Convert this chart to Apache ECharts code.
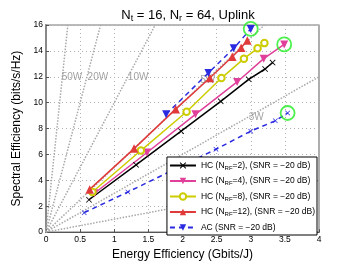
<!DOCTYPE html>
<html><head><meta charset="utf-8">
<script src="https://cdn.jsdelivr.net/npm/echarts@6/dist/echarts.min.js"></script>
<style>html,body{margin:0;padding:0;background:#fff}#c{width:353px;height:266px}</style>
</head><body><div id="c"></div>
<script>
// ---- data ----
var hc2X = [0.63, 1.32, 1.98, 2.56, 2.97, 3.21, 3.32];
var hc2Y = [2.5, 5.2, 7.8, 10.1, 11.8, 12.6, 13.1];
var hc4X = [0.71, 1.48, 2.19, 2.80, 3.19, 3.49];
var hc4Y = [3.0, 6.15, 9.1, 11.6, 13.4, 14.5];
var hc8X = [0.68, 1.39, 2.06, 2.57, 2.90, 3.10, 3.20];
var hc8Y = [3.1, 6.3, 9.3, 11.9, 13.4, 14.2, 14.6];
var hc12X = [0.64, 1.29, 1.90, 2.40, 2.73, 2.86, 2.95];
var hc12Y = [3.3, 6.45, 9.5, 11.9, 13.55, 14.25, 14.8];
var acX = [1.76, 2.38, 2.75, 3.00];
var acY = [9.1, 12.3, 14.2, 15.7];
var acLowX = [0.56, 1.20, 2.49, 3.00, 3.36, 3.54];
var acLowY = [1.5, 3.1, 6.4, 7.8, 8.6, 9.2];
var circleX = [3.00, 3.49, 3.54];
var circleY = [15.7, 14.5, 9.2];
// iso-power dotted lines: end points (start at origin)
var powerEndX = [0.32, 0.80, 1.60, 3.20, 4.0, 4.0];
var powerEndY = [16, 16, 16, 16, 12.0, 4.0];
var powerLabels = ['50W', '20W', '10W', '5W', '3W'];
var powerLabelX = [0.38, 0.76, 1.35, 2.37, 3.08];
var powerLabelY = [12.0, 12.0, 12.0, 11.7, 8.9];
var xTicks = [0, 0.5, 1, 1.5, 2, 2.5, 3, 3.5, 4];
var yTicks = [0, 2, 4, 6, 8, 10, 12, 14, 16];
var legendNames = {
  hc2: 'HC (N{s|RF}=2), (SNR = \u221220 dB)',
  hc4: 'HC (N{s|RF}=4), (SNR = \u221220 dB)',
  hc8: 'HC (N{s|RF}=8), (SNR = \u221220 dB)',
  hc12: 'HC (N{s|RF}=12), (SNR = \u221220 dB)',
  ac: 'AC (SNR = \u221220 dB)'
};

function zip(a, b) { return a.map(function (v, i) { return [v, b[i]]; }); }
var FONT = 'Liberation Sans, Arial, sans-serif';
var xMark = 'path://M1,0 L5,4 L9,0 L10,1 L6,5 L10,9 L9,10 L5,6 L1,10 L0,9 L4,5 L0,1 Z';

var series = [];
for (var i = 0; i < powerEndX.length; i++) {
  series.push({
    type: 'line', silent: true, symbol: 'none', z: 1,
    data: [[0, 0], [powerEndX[i], powerEndY[i]]],
    lineStyle: { type: [1.5, 1.5], color: '#a8a8a8', width: 1.5 }
  });
}
series.push({
  type: 'scatter', silent: true, symbolSize: 0, z: 1,
  data: powerLabels.map(function (t, i) { return { value: [powerLabelX[i], powerLabelY[i]], name: t }; }),
  label: { show: true, position: 'inside', formatter: function (p) { return p.name; },
           color: '#8c8c8c', fontSize: 10, fontFamily: FONT }
});
function mk(name, xs, ys, color, symbol, size, extra) {
  var s = {
    name: name, type: 'line', data: zip(xs, ys), z: 3,
    symbol: symbol, symbolSize: size,
    lineStyle: { color: color, width: 1.5 },
    itemStyle: { color: color }
  };
  for (var k in extra) s[k] = extra[k];
  return s;
}
series.push(mk('hc2', hc2X, hc2Y, '#000000', xMark, 6, {}));
series.push(mk('hc4', hc4X, hc4Y, '#e0409a', 'triangle', 8, { symbolRotate: 180 }));
series.push(mk('hc8', hc8X, hc8Y, '#cccc00', 'emptyCircle', 6.5, { itemStyle: { color: '#cccc00', borderWidth: 1.5 } }));
series.push(mk('hc12', hc12X, hc12Y, '#e03a3a', 'triangle', 8.5, {}));
series.push(mk('ac', acX, acY, '#2a2ae0', 'triangle', 8, { symbolRotate: 180, lineStyle: { color: '#2a2ae0', width: 1.5, type: [5, 4] } }));
series.push(mk('acLow', acLowX, acLowY, '#2a2ae0', xMark, 5, { lineStyle: { color: '#2a2ae0', width: 1.5, type: [5, 4] } }));
series.push({
  type: 'scatter', silent: true, z: 4, symbol: 'circle', symbolSize: 14,
  data: zip(circleX, circleY),
  itemStyle: { color: 'rgba(0,0,0,0)', borderColor: '#22ee22', borderWidth: 1.8 }
});

var chart = echarts.init(document.getElementById('c'), null, { renderer: 'canvas' });
chart.setOption({
  animation: false,
  backgroundColor: '#fff',
  title: {
    text: 'N{s|t} = 16, N{s|r} = 64, Uplink', left: 183, top: 2, textAlign: 'center',
    textStyle: { fontSize: 13, fontWeight: 'normal', fontFamily: FONT, color: '#000',
      rich: { s: { fontSize: 9, fontFamily: FONT, padding: [7, 0, 0, 0] } } }
  },
  grid: { left: 46, right: 34, top: 25, bottom: 29, show: true, borderColor: '#777', borderWidth: 1.2 },
  legend: {
    data: ['hc2', 'hc4', 'hc8', 'hc12', 'ac'],
    orient: 'vertical', right: 36, bottom: 31,
    backgroundColor: '#fff', borderColor: '#000', borderWidth: 1,
    padding: [3, 2, 2, 2], itemGap: 4.5, itemWidth: 26, itemHeight: 8,
    formatter: function (n) { return legendNames[n]; },
    textStyle: { fontSize: 8.5, fontFamily: FONT, color: '#000', lineHeight: 11,
      rich: { s: { fontSize: 6, fontFamily: FONT, padding: [5, 0, 0, 0] } } }
  },
  xAxis: {
    type: 'value', min: 0, max: 4, interval: 0.5,
    name: 'Energy Efficiency (Gbits/J)', nameLocation: 'middle', nameGap: 13,
    nameTextStyle: { fontSize: 12, fontFamily: FONT, color: '#000' },
    axisLine: { show: true, lineStyle: { color: '#555', width: 1.2 } },
    axisTick: { show: true, inside: true, length: 3, lineStyle: { color: '#555' } },
    axisLabel: { fontSize: 8.5, fontFamily: FONT, color: '#000', margin: 3,
      formatter: function (v) { return xTicks.indexOf(v) >= 0 ? String(v) : ''; } },
    splitLine: { show: true, lineStyle: { type: [1, 3], color: '#b0b0b0', width: 1 } }
  },
  yAxis: {
    type: 'value', min: 0, max: 16, interval: 2,
    name: 'Spectral Efficiency (bits/s/Hz)', nameLocation: 'middle', nameGap: 20,
    nameTextStyle: { fontSize: 12, fontFamily: FONT, color: '#000' },
    axisLine: { show: true, lineStyle: { color: '#888', width: 2 } },
    axisTick: { show: true, inside: true, length: 3, lineStyle: { color: '#555' } },
    axisLabel: { fontSize: 8.5, fontFamily: FONT, color: '#000', margin: 3,
      formatter: function (v) { return yTicks.indexOf(v) >= 0 ? String(v) : ''; } },
    splitLine: { show: true, lineStyle: { type: [1, 3], color: '#b0b0b0', width: 1 } }
  },
  series: series
});
</script></body></html>
